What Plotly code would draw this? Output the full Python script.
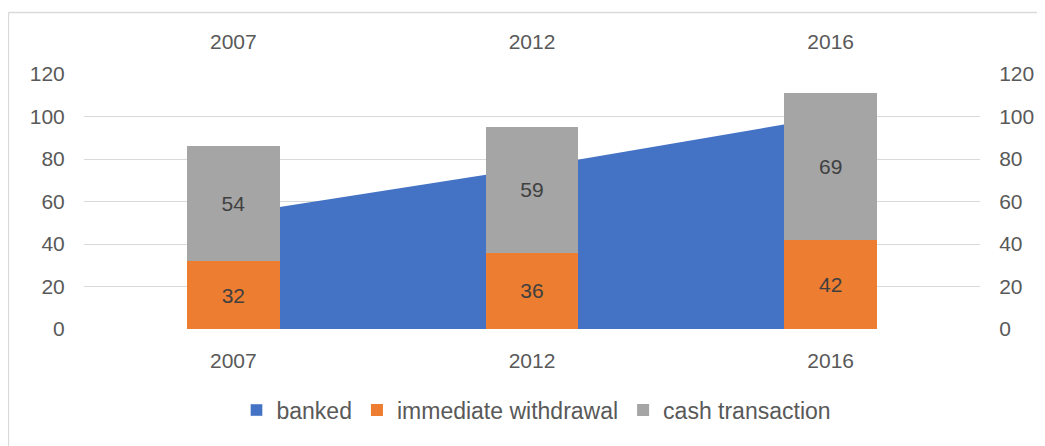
import plotly.graph_objects as go

years = ["2007", "2012", "2016"]
banked = [54, 76, 100]
immediate_withdrawal = [32, 36, 42]
cash_transaction = [54, 59, 69]
y_ticks = [0, 20, 40, 60, 80, 100, 120]

FONT = "Liberation Sans, Arial, sans-serif"
TICK_COLOR = "#595959"
GRID = "#D9D9D9"
BLUE, ORANGE, GRAY = "#4472C4", "#ED7D31", "#A5A5A5"

# page body has an 8px margin; figure is laid out in its own coordinates
W, H = 1037, 438
L, R, T, B = 76, 65, 66, 117
PW, PH = W - L - R, H - T - B

fig = go.Figure()

fig.add_trace(go.Scatter(
    x=years, y=banked, name="banked", mode="none",
    fill="tozeroy", fillcolor=BLUE, showlegend=False,
    xaxis="x", yaxis="y", hoverinfo="skip",
))
# legend entry for the area (square swatch like the reference)
fig.add_trace(go.Bar(
    x=[None], y=[None], name="banked", marker=dict(color=BLUE),
    xaxis="x2", yaxis="y2", showlegend=True,
))
fig.add_trace(go.Bar(
    x=years, y=immediate_withdrawal, name="immediate withdrawal",
    marker=dict(color=ORANGE, line=dict(width=0)),
    text=immediate_withdrawal, textposition="inside", insidetextanchor="middle",
    textfont=dict(color="#404040", size=21, family=FONT),
    width=0.31, xaxis="x2", yaxis="y2",
))
fig.add_trace(go.Bar(
    x=years, y=cash_transaction, name="cash transaction",
    marker=dict(color=GRAY, line=dict(width=0)),
    text=cash_transaction, textposition="inside", insidetextanchor="middle",
    textfont=dict(color="#404040", size=21, family=FONT),
    width=0.31, xaxis="x2", yaxis="y2",
))

axis_font = dict(family=FONT, size=21, color=TICK_COLOR)

fig.update_layout(
    width=W, height=H,
    margin=dict(l=L, r=R, t=T, b=B, autoexpand=False),
    paper_bgcolor="white", plot_bgcolor="white",
    barmode="stack",
    font=dict(family=FONT, color=TICK_COLOR),
    showlegend=True,
    legend=dict(orientation="h", x=0.505, xanchor="center", y=-0.318, yanchor="middle",
                traceorder="normal", font=dict(family=FONT, size=23, color=TICK_COLOR),
                itemwidth=30),
    xaxis=dict(type="category", categoryorder="array", categoryarray=years,
               range=[-0.5, 2.5], showgrid=False, zeroline=False, showline=False,
               ticks="outside", ticklen=13, tickcolor="rgba(0,0,0,0)",
               tickfont=axis_font, automargin=False),
    xaxis2=dict(type="category", categoryorder="array", categoryarray=years,
                range=[-0.5, 2.5], overlaying="x", side="top", showgrid=False,
                zeroline=False, showline=False,
                ticks="outside", ticklen=16, tickcolor="rgba(0,0,0,0)",
                tickfont=axis_font, automargin=False),
    yaxis=dict(range=[0, 120], tickvals=y_ticks, showgrid=True, gridcolor=GRID,
               gridwidth=1.3, zeroline=False, showline=False,
               ticks="outside", ticklen=14, tickcolor="rgba(0,0,0,0)",
               tickfont=axis_font, automargin=False),
    yaxis2=dict(range=[0, 120], tickvals=y_ticks, overlaying="y", side="right",
                showgrid=False, zeroline=False, showline=False,
                ticks="outside", ticklen=14, tickcolor="rgba(0,0,0,0)",
                tickfont=axis_font, automargin=False),
    shapes=[
        dict(type="line", xref="paper", yref="paper",
             x0=(0.5 - L) / PW, x1=(W - L) / PW,
             y0=(PH + T - 4.5) / PH, y1=(PH + T - 4.5) / PH,
             line=dict(color="#D9D9D9", width=1.3)),
        dict(type="line", xref="paper", yref="paper",
             x0=(0.5 - L) / PW, x1=(0.5 - L) / PW,
             y0=(PH + T - 4.5) / PH, y1=-B / PH,
             line=dict(color="#D9D9D9", width=1.3)),
    ],
)

fig.write_html("out.html")
